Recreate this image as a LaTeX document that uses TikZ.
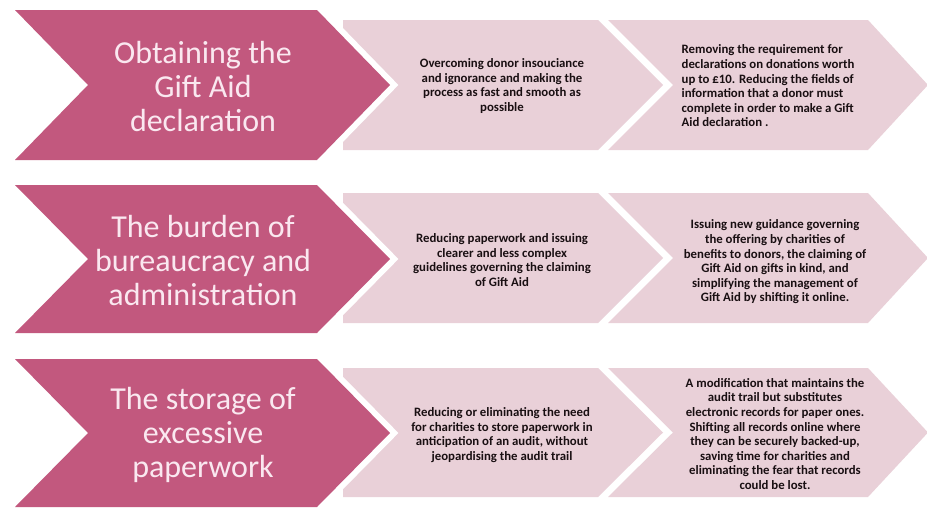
\documentclass[tikz,border=0pt]{standalone}
\usepackage{fontspec}
\setmainfont{Carlito}
\definecolor{darkrose}{RGB}{194,88,126}
\definecolor{lightrose}{RGB}{233,208,216}
\definecolor{paletext}{RGB}{250,232,240}
\definecolor{bodytext}{RGB}{25,15,18}
\tikzset{
  darkchev/.style={fill=darkrose, preaction={draw=white, line width=12pt, line join=miter}},
  lightchev/.style={fill=lightrose, preaction={draw=white, line width=11pt, line join=miter}},
  lightbase/.style={fill=lightrose},
  bigtext/.style={text=paletext, align=center, font=\fontsize{32}{34}\selectfont, inner sep=0pt},
  smalltext/.style={text=bodytext, align=center, font=\fontsize{12.8}{14.6}\selectfont\bfseries, inner sep=0pt},
}
\begin{document}
\begin{tikzpicture}[x=1pt,y=-1pt]
\fill[white] (0,0) rectangle (927,509);
\useasboundingbox (0,0) rectangle (927,509);
% rows: top, bottom of dark; top, bottom of light
\foreach \dt/\db/\lt/\lb [count=\r] in {10/160/20/150, 185/333/193/323, 359/507/368/497}{
  \pgfmathsetmacro{\dc}{(\dt+\db)/2}
  \pgfmathsetmacro{\lc}{(\lt+\lb)/2}
  % first light chevron (base)
  \fill[lightbase] (343,\lt) -- (598,\lt) -- (663,\lc) -- (598,\lb) -- (343,\lb) -- cycle;
  % second light chevron
  \path[lightchev] (608,\lt) -- (868,\lt) -- (928,\lc) -- (868,\lb) -- (608,\lb) -- (673,\lc) -- cycle;
  % dark chevron
  \path[darkchev] (15,\dt) -- (317,\dt) -- (390,\dc) -- (317,\db) -- (15,\db) -- (88,\dc) -- cycle;
}

\node[bigtext] (t1) at (203,87) {Obtaining the\\Gift Aid\\declaration};
\node[bigtext] (t2) at (203,261) {The burden of\\bureaucracy and\\administration};
\node[bigtext] (t3) at (203,435) {The storage of\\excessive\\paperwork};

\node[smalltext] (a1) at (502,86) {Overcoming donor insouciance\\and ignorance and making the\\process as fast and smooth as\\possible};
\node[smalltext, align=left] (b1) at (768,86) {Removing the requirement for\\declarations on donations worth\\up to £10. Reducing the fields of\\information that a donor must\\complete in order to make a Gift\\Aid declaration .};

\node[smalltext] (a2) at (502,260) {Reducing paperwork and issuing\\clearer and less complex\\guidelines governing the claiming\\of Gift Aid};
\node[smalltext] (b2) at (775,262) {Issuing new guidance governing\\the offering by charities of\\benefits to donors, the claiming of\\Gift Aid on gifts in kind, and\\simplifying the management of\\Gift Aid by shifting it online.};

\node[smalltext] (a3) at (502,435) {Reducing or eliminating the need\\for charities to store paperwork in\\anticipation of an audit, without\\jeopardising the audit trail};
\node[smalltext] (b3) at (775,434) {A modification that maintains the\\audit trail but substitutes\\electronic records for paper ones.\\Shifting all records online where\\they can be securely backed-up,\\saving time for charities and\\eliminating the fear that records\\could be lost.};
\end{tikzpicture}
\end{document}
